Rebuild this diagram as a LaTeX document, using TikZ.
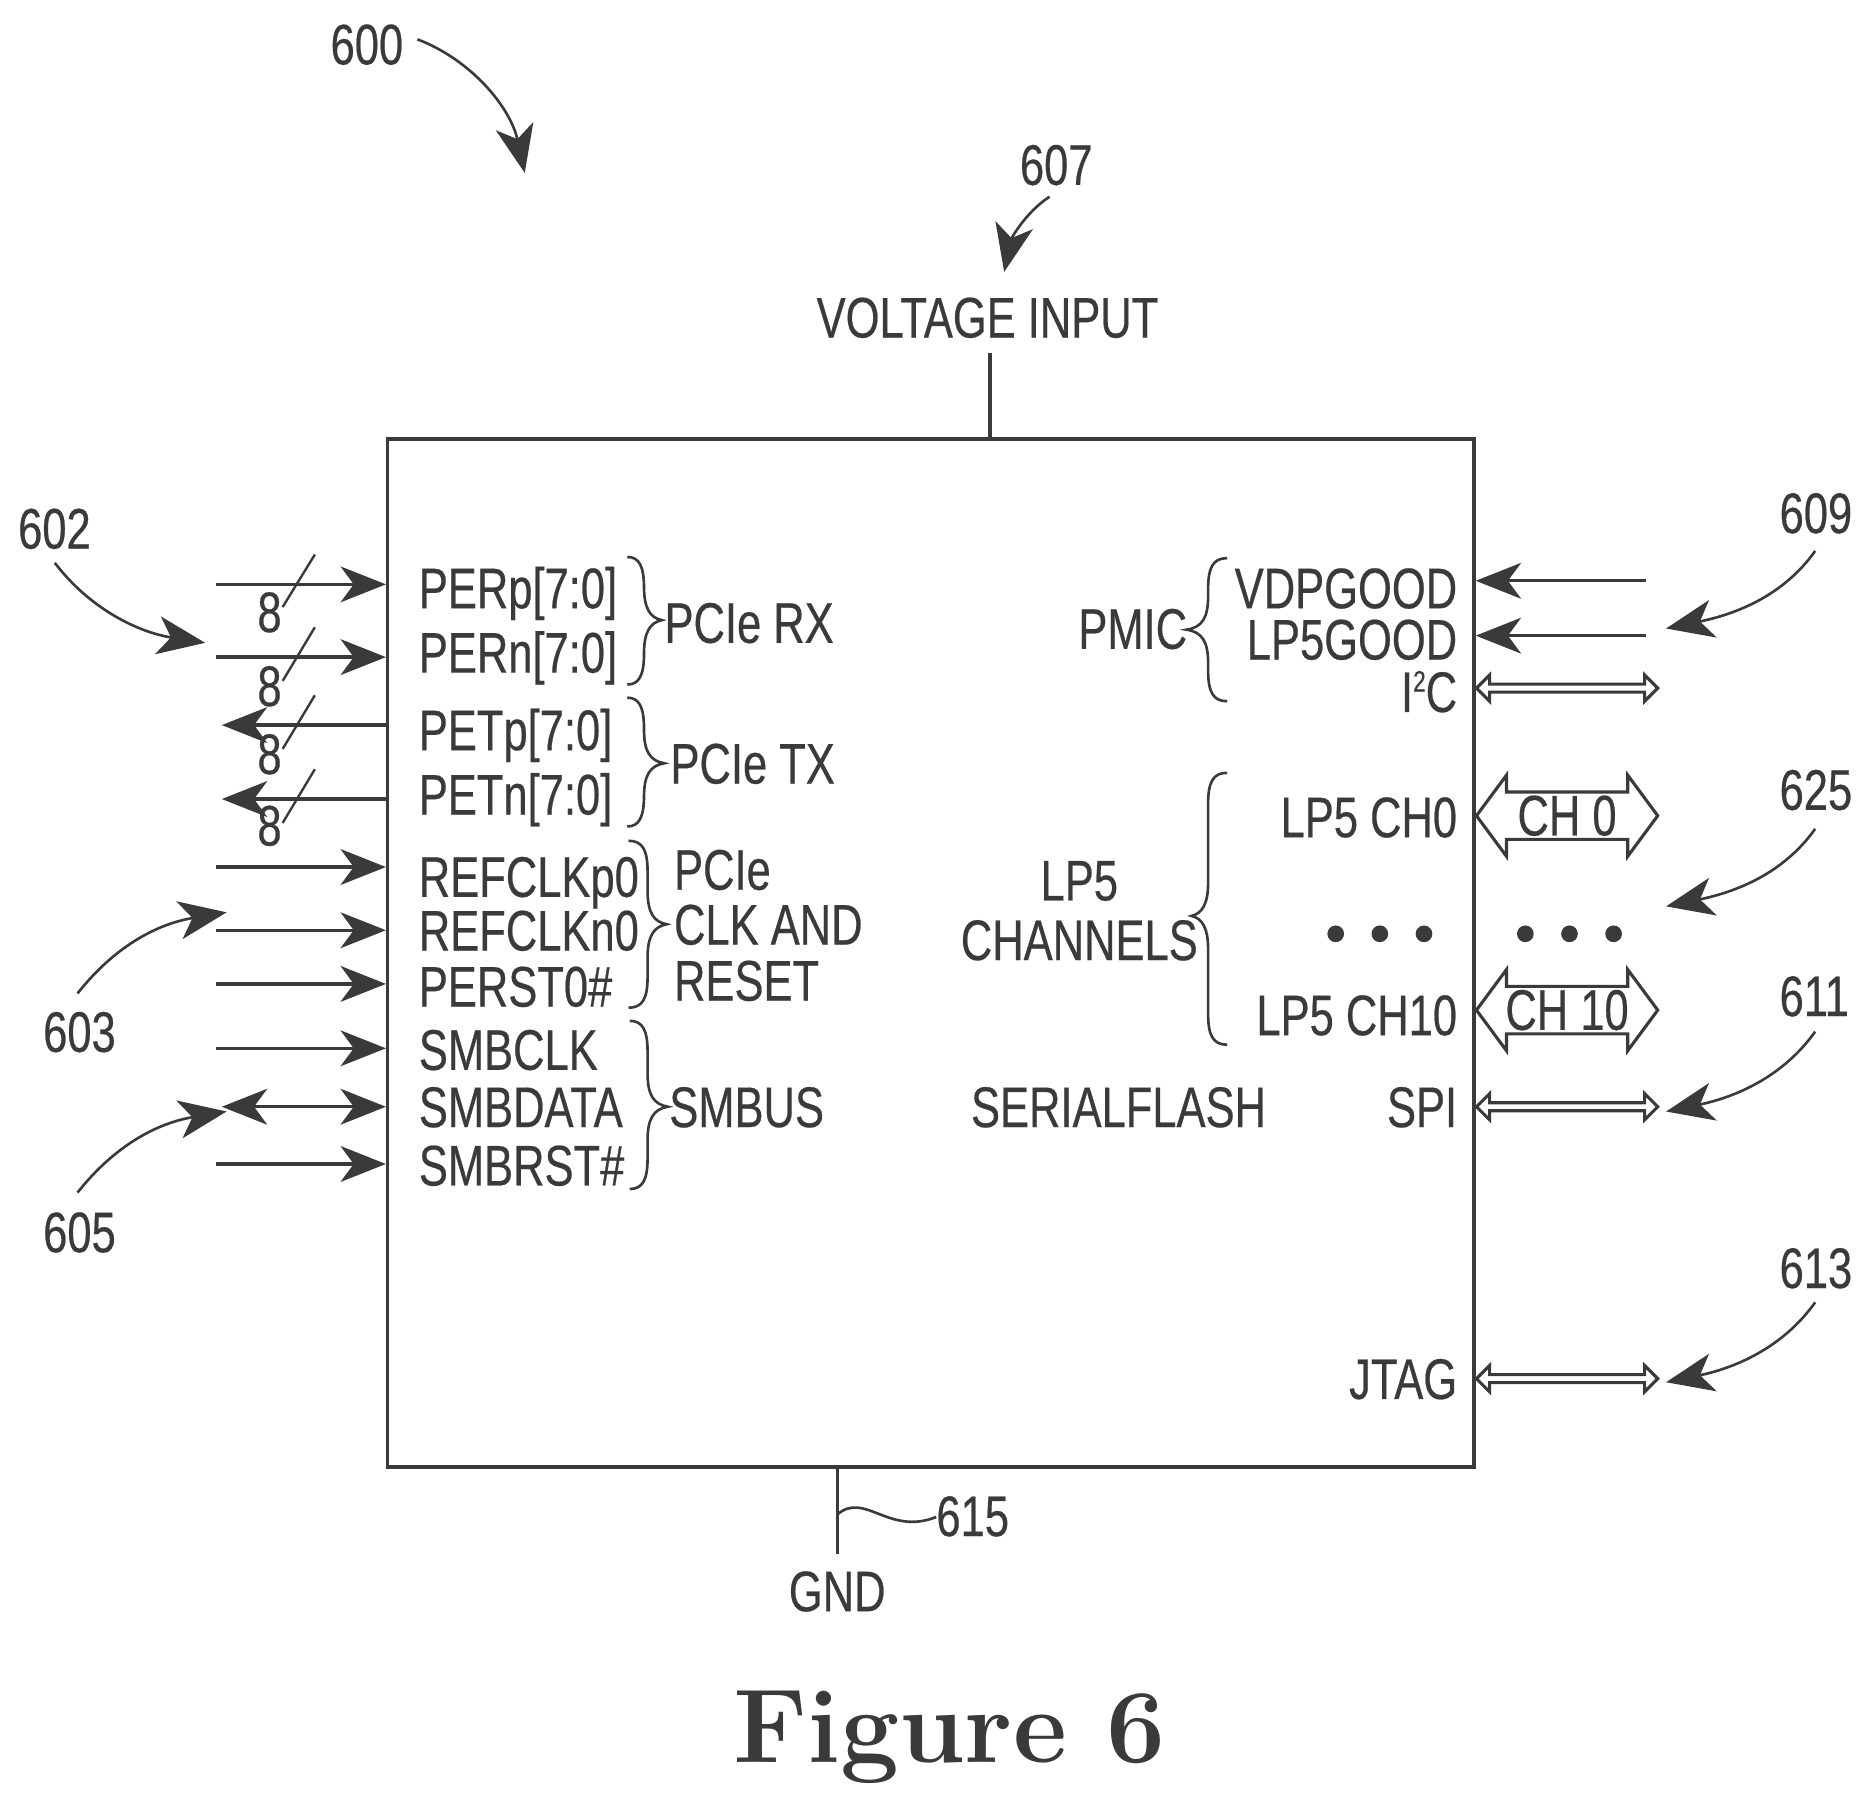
\documentclass[tikz,border=0pt]{standalone}
\usepackage{fontspec}
\usetikzlibrary{arrows.meta,shapes.arrows}
\newfontface\labfont[FakeStretch=0.76,FakeBold=0.4]{Liberation Sans}
\definecolor{ink}{HTML}{3A3A3A}
\tikzset{
  lab/.style={font=\fontsize{48}{50}\labfont,text=ink,inner sep=0pt},
  lw/.style={lab,anchor=base west},
  le/.style={lab,anchor=base east},
  lc/.style={lab,anchor=base},
  wire/.style={draw=ink,line width=2.8pt},
  tipr/.style={wire,-{Stealth[length=38pt,width=30pt,inset=11pt]}},
  tipb/.style={wire,{Stealth[length=38pt,width=30pt,inset=11pt]}-{Stealth[length=38pt,width=30pt,inset=11pt]}},
  callout/.style={draw=ink,line width=2.2pt,-{Stealth[length=40pt,width=32pt,inset=11pt]}},
  bracec/.style={draw=ink,line width=2.2pt},
  fat/.style={double arrow,draw=ink,line width=2.6pt,inner sep=0pt,minimum height=152pt,minimum width=68pt,
     double arrow head extend=13pt,double arrow tip angle=107,lab},
  slim/.style={double arrow,draw=ink,line width=2.6pt,inner sep=0pt,minimum height=152pt,minimum width=22pt,
     double arrow head extend=3pt,double arrow tip angle=90},
  dotm/.style={circle,fill=ink,inner sep=0pt,minimum size=14pt},
}
\newcommand{\rbr}[7]{% name xl xm xt top mid bot
  \coordinate (#1) at (#4,#6);
  \pgfmathsetmacro\sgn{(#4>#3)?1:-1}
  \draw[bracec] (#2,#5) .. controls (#3-\sgn*4,#5) and (#3,#5+8) .. (#3,#5+26) -- (#3,#6-28)
     .. controls (#3,#6-10) and (#3+\sgn*5,#6-2) .. (#1) .. controls (#3+\sgn*5,#6+2) and (#3,#6+10) .. (#3,#6+28)
     -- (#3,#7-26) .. controls (#3,#7-8) and (#3-\sgn*4,#7) .. (#2,#7);}
\begin{document}
\begin{tikzpicture}[x=1pt,y=-1pt]
\useasboundingbox (0,0) rectangle (1568,1511);
\node[draw=ink,line width=2.8pt,minimum width=911pt,minimum height=862pt,inner sep=0pt] (box) at (780.5,799) {};

% left labels
\node[lw] (perp) at (351,510) {PERp[7:0]};
\node[lw] (pern) at (351,564) {PERn[7:0]};
\node[lw] (petp) at (351,629) {PETp[7:0]};
\node[lw] (petn) at (351,683) {PETn[7:0]};
\node[lw] (refp) at (351,752) {REFCLKp0};
\node[lw] (refn) at (351,797) {REFCLKn0};
\node[lw] (perst) at (351,844) {PERST0\#};
\node[lw] (smbclk) at (351,897) {SMBCLK};
\node[lw] (smbdata) at (351,945) {SMBDATA};
\node[lw] (smbrst) at (351,994) {SMBRST\#};
\node[lw] (rx) at (557,539) {PCIe RX};
\node[lw] (tx) at (562,657) {PCIe TX};
\node[lw] (clk1) at (565,746) {PCIe};
\node[lw] (clk2) at (565,792) {CLK AND};
\node[lw] (clk3) at (565,839) {RESET};
\node[lw] (smbus) at (561,945) {SMBUS};

% braces
\rbr{brx}{526}{540}{555}{467}{520}{574}
\rbr{btx}{526}{540}{557}{585}{640}{693}
\rbr{bclk}{527}{543}{559}{705}{775}{845}
\rbr{bsmb}{528}{543}{560}{856}{928}{997}
\rbr{bpmic}{1029}{1013}{995}{468}{528}{588}
\rbr{blp}{1029}{1013}{999}{648}{768}{876}

% right labels
\node[le] (vdp) at (1222,510) {VDPGOOD};
\node[le] (lpg) at (1222,553) {LP5GOOD};
\node[le] (iic) at (1222,597) {I\raisebox{17pt}{\fontsize{25}{25}\labfont 2}C};
\node[le] (ch0l) at (1222,702) {LP5 CH0};
\node[le] (ch10l) at (1222,868) {LP5 CH10};
\node[le] (spil) at (1222,945) {SPI};
\node[le] (jtagl) at (1222,1173) {JTAG};
\node[lw] (pmic) at (904,544) {PMIC};
\node[lc] (lp5) at (905,755) {LP5};
\node[lc] (chs) at (905,805) {CHANNELS};
\node[lw] (sf) at (814,945) {SERIALFLASH};
\node[lc] (volt) at (828,283) {VOLTAGE INPUT};
\node[lc] (gnd) at (702,1351) {GND};

% reference numbers
\node[lw] (n600) at (277,54) {600};
\node[lw] (n607) at (855,155) {607};
\node[lw] (n602) at (15,460) {602};
\node[lw] (n603) at (36,882) {603};
\node[lw] (n605) at (36,1050) {605};
\node[lw] (n609) at (1492,447) {609};
\node[lw] (n625) at (1492,679) {625};
\node[lw] (n611) at (1492,852) {611};
\node[lw] (n613) at (1492,1080) {613};
\node[lw] (n615) at (785,1288) {615};

% free ends
\foreach \n/\y in {a1/490,a2/551,a5/727,a6/780,a7/825,a8/879,a10/976}
  \coordinate (\n) at (181,\y);
\foreach \n/\y in {a3/608,a4/670}
  \coordinate (\n) at (186,\y);
\coordinate (a9) at (186,928);

\foreach \n in {a1,a2,a5,a6,a7,a8,a10}
  \draw[tipr] (\n) -- (\n -| box.west);
\foreach \n in {a3,a4}
  \draw[tipr] (\n -| box.west) -- (\n);
\draw[tipb] (a9) -- (a9 -| box.west);

% slashes and bus widths
\coordinate (s1a) at (264,465); \coordinate (s1b) at (237,509);
\coordinate (s2a) at (264,526); \coordinate (s2b) at (237,571);
\coordinate (s3a) at (264,583); \coordinate (s3b) at (237,628);
\coordinate (s4a) at (264,645); \coordinate (s4b) at (237,690);
\foreach \i in {1,2,3,4} \draw[wire,line width=2pt] (s\i a) -- (s\i b);
\node[lc] (w1) at (226,530) {8};
\node[lc] (w2) at (226,592) {8};
\node[lc] (w3) at (226,649) {8};
\node[lc] (w4) at (226,709) {8};

% right single arrows
\coordinate (r1) at (1380,487);
\coordinate (r2) at (1380,533);
\draw[tipr] (r1) -- (r1 -| box.east);
\draw[tipr] (r2) -- (r2 -| box.east);

% right double arrows
\node[slim] (iica) at (1314,577) {};
\node[fat] (cha) at (1314,684) {CH 0};
\node[fat] (chb) at (1314,847) {CH 10};
\node[slim] (spia) at (1314,928) {};
\node[slim] (jtaga) at (1314,1156) {};

% dots
\foreach \x/\n in {1120/d1,1157/d2,1194/d3,1279/d4,1316/d5,1353/d6}
  \node[dotm] (\n) at (\x,783) {};

% power and ground
\draw[wire] (volt.south -| 830,0) ++(0,12) -- (box.north -| 830,0);
\coordinate (g0) at (702,1303);
\draw[wire] (box.south -| g0) -- (g0);
\coordinate (g1) at (702,1270);
\draw[draw=ink,line width=2.2pt] (g1) .. controls (725,1250) and (745,1288) .. (n615.west |- 0,1272);

% callouts
\coordinate (c600) at (350,33); \coordinate (t600) at (440,145);
\draw[callout] (c600) .. controls (395,50) and (428,90) .. (t600);
\coordinate (c607) at (880,165); \coordinate (t607) at (842,228);
\draw[callout] (c607) .. controls (860,178) and (848,200) .. (t607);
\coordinate (c602) at (46,472); \coordinate (t602) at (172,539);
\draw[callout] (c602) .. controls (75,510) and (115,530) .. (t602);
\coordinate (c603) at (65,833); \coordinate (t603) at (190,765);
\draw[callout] (c603) .. controls (95,795) and (130,775) .. (t603);
\coordinate (c605) at (65,1000); \coordinate (t605) at (190,932);
\draw[callout] (c605) .. controls (95,962) and (130,942) .. (t605);
\coordinate (c609) at (1522,462); \coordinate (t609) at (1397,527);
\draw[callout] (c609) .. controls (1495,500) and (1455,515) .. (t609);
\coordinate (c625) at (1522,695); \coordinate (t625) at (1397,760);
\draw[callout] (c625) .. controls (1495,733) and (1455,748) .. (t625);
\coordinate (c611) at (1522,865); \coordinate (t611) at (1397,932);
\draw[callout] (c611) .. controls (1495,903) and (1455,920) .. (t611);
\coordinate (c613) at (1522,1092); \coordinate (t613) at (1397,1159);
\draw[callout] (c613) .. controls (1495,1130) and (1455,1147) .. (t613);

\node[anchor=base,inner sep=0pt,text=ink,font=\fontsize{88}{90}\selectfont\bfseries] (fig) at (796,1478) {Figure 6};
\end{tikzpicture}
\end{document}
